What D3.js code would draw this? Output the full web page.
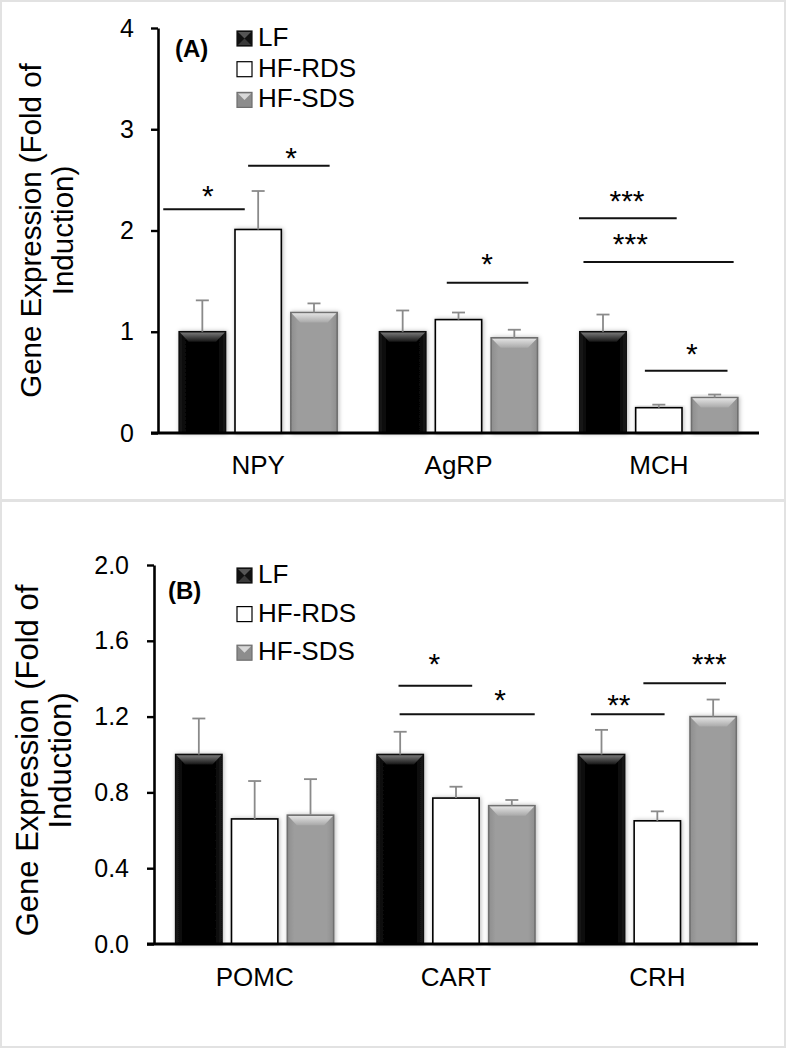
<!DOCTYPE html>
<html><head><meta charset="utf-8">
<script src="https://cdn.jsdelivr.net/npm/d3@7"></script>
<style>
body{margin:0;background:#fff}
svg{display:block}
text{font-family:"Liberation Sans",Arial,Helvetica,sans-serif;fill:#000}
</style>
</head><body>
<svg id="chart" width="788" height="1050"></svg>
<script>
// ---------- data ----------
const groups = ["LF", "HF-RDS", "HF-SDS"];
const yTitle1 = "Gene Expression (Fold of";
const yTitle2 = "Induction)";

// Panel A
const categoriesA = ["NPY", "AgRP", "MCH"];
const lfA = [1.00, 1.00, 1.00];
const lfErrA = [0.31, 0.21, 0.17];
const rdsA = [2.01, 1.12, 0.25];
const rdsErrA = [0.38, 0.07, 0.03];
const sdsA = [1.19, 0.94, 0.35];
const sdsErrA = [0.09, 0.08, 0.03];
const ticksA = [0, 1, 2, 3, 4];
const tickLabelsA = ["0", "1", "2", "3", "4"];
// significance marks (category, line from/to in bar-slot units, line value, label slot, label value, text)
const sigCatA = [0, 0, 1, 2, 2, 2];
const sigFromA = [-1.70, -0.18, -0.21, -1.43, -1.35, -0.25];
const sigToA = [-0.24, 1.28, 1.25, 0.32, 1.34, 1.23];
const sigValA = [2.21, 2.64, 1.485, 2.12, 1.69, 0.614];
const sigLabelSlotA = [-0.90, 0.59, 0.51, -0.57, -0.51, 0.59];
const sigLabelValA = [2.406, 2.79, 1.736, 2.356, 1.94, 0.854];
const sigTextA = ["*", "*", "*", "***", "***", "*"];

// Panel B
const categoriesB = ["POMC", "CART", "CRH"];
const lfB = [1.00, 1.00, 1.00];
const lfErrB = [0.19, 0.12, 0.13];
const rdsB = [0.66, 0.77, 0.65];
const rdsErrB = [0.20, 0.06, 0.05];
const sdsB = [0.68, 0.73, 1.20];
const sdsErrB = [0.19, 0.03, 0.09];
const ticksB = [0, 0.4, 0.8, 1.2, 1.6, 2.0];
const tickLabelsB = ["0.0", "0.4", "0.8", "1.2", "1.6", "2.0"];
const sigCatB = [1, 1, 2, 2];
const sigFromB = [-1.03, -1.01, -1.19, -0.25];
const sigToB = [0.29, 1.41, 0.13, 1.23];
const sigValB = [1.363, 1.212, 1.212, 1.376];
const sigLabelSlotB = [-0.39, 0.79, -0.69, 0.93];
const sigLabelValB = [1.516, 1.323, 1.297, 1.516];
const sigTextB = ["*", "*", "**", "***"];

// ---------- drawing ----------
const svg = d3.select("#chart");
const defs = svg.append("defs");

const g1 = defs.append("linearGradient").attr("id", "lfBevel").attr("x1", 0).attr("y1", 0).attr("x2", 0).attr("y2", 1);
g1.append("stop").attr("offset", "0%").attr("stop-color", "#777");
g1.append("stop").attr("offset", "100%").attr("stop-color", "#151515");
const g2 = defs.append("linearGradient").attr("id", "sdsBevel").attr("x1", 0).attr("y1", 0).attr("x2", 0).attr("y2", 1);
g2.append("stop").attr("offset", "0%").attr("stop-color", "#e2e2e2");
g2.append("stop").attr("offset", "100%").attr("stop-color", "#a9a9a9");
const g3 = defs.append("linearGradient").attr("id", "lfBody").attr("x1", 0).attr("y1", 0).attr("x2", 1).attr("y2", 0);
g3.append("stop").attr("offset", "0%").attr("stop-color", "#1a1a1a");
g3.append("stop").attr("offset", "15%").attr("stop-color", "#050505");
g3.append("stop").attr("offset", "85%").attr("stop-color", "#050505");
g3.append("stop").attr("offset", "100%").attr("stop-color", "#1a1a1a");
const g4 = defs.append("linearGradient").attr("id", "sdsBody").attr("x1", 0).attr("y1", 0).attr("x2", 1).attr("y2", 0);
g4.append("stop").attr("offset", "0%").attr("stop-color", "#8e8e8e");
g4.append("stop").attr("offset", "15%").attr("stop-color", "#9d9d9d");
g4.append("stop").attr("offset", "85%").attr("stop-color", "#9d9d9d");
g4.append("stop").attr("offset", "100%").attr("stop-color", "#8e8e8e");

const sh = defs.append("filter").attr("id", "shadow").attr("x", "-30%").attr("y", "-10%").attr("width", "160%").attr("height", "120%");
sh.append("feDropShadow").attr("dx", 1).attr("dy", 0).attr("stdDeviation", 2.2)
  .attr("flood-color", "#000").attr("flood-opacity", 0.28);

// panel frames
svg.append("rect").attr("x", 1).attr("y", 1).attr("width", 784).attr("height", 499)
  .attr("fill", "none").attr("stroke", "#e2e2e2").attr("stroke-width", 2);
svg.append("rect").attr("x", 1).attr("y", 501).attr("width", 784).attr("height", 546)
  .attr("fill", "none").attr("stroke", "#e2e2e2").attr("stroke-width", 2);

const barStyle = {
  "LF": {fill: "url(#lfBody)", stroke: "#111", bevel: "url(#lfBevel)"},
  "HF-RDS": {fill: "#fff", stroke: "#000", bevel: null},
  "HF-SDS": {fill: "url(#sdsBody)", stroke: "#6f6f6f", bevel: "url(#sdsBevel)"}
};

function drawPanel(cfg) {
  const g = svg.append("g");
  const y = d3.scaleLinear().domain([0, cfg.yMax]).range([cfg.bottom, cfg.top]);
  const x = d3.scaleBand().domain(cfg.categories).range([cfg.left, cfg.right]).padding(0);
  const groupW = 158;
  const xi = d3.scaleBand().domain(groups)
    .range([(x.bandwidth() - groupW) / 2, (x.bandwidth() + groupW) / 2])
    .paddingInner(0.17).paddingOuter(0);
  const slot = xi.step();
  const center = c => x(c) + x.bandwidth() / 2;

  const rows = [];
  cfg.categories.forEach((c, i) => {
    groups.forEach((grp, k) => {
      rows.push({cat: c, grp, v: cfg.values[k][i], e: cfg.errors[k][i]});
    });
  });

  // bars
  const bars = g.append("g");
  rows.forEach(r => {
    const bx = x(r.cat) + xi(r.grp), bw = xi.bandwidth();
    const by = y(r.v), bh = y(0) - y(r.v);
    const st = barStyle[r.grp];
    bars.append("rect").attr("x", bx).attr("y", by).attr("width", bw).attr("height", bh)
      .attr("fill", st.fill).attr("stroke", st.stroke).attr("stroke-width", 1.6)
      .attr("filter", "url(#shadow)");
    if (st.bevel) {
      const d = Math.min(10, bh * 0.3), ins = d * 0.95;
      bars.append("polygon")
        .attr("points", [[bx + 0.8, by + 0.8], [bx + bw - 0.8, by + 0.8], [bx + bw - ins, by + d], [bx + ins, by + d]].map(p => p.join(",")).join(" "))
        .attr("fill", st.bevel);
    }
  });

  // error bars
  const eb = g.append("g").attr("stroke", "#8a8a8a").attr("stroke-width", 1.8).attr("fill", "none");
  rows.forEach(r => {
    const cx = x(r.cat) + xi(r.grp) + xi.bandwidth() / 2;
    eb.append("line").attr("x1", cx).attr("x2", cx).attr("y1", y(r.v)).attr("y2", y(r.v + r.e));
    eb.append("line").attr("x1", cx - 6.5).attr("x2", cx + 6.5).attr("y1", y(r.v + r.e)).attr("y2", y(r.v + r.e));
  });

  // y axis
  const yAxis = d3.axisLeft(y).tickValues(cfg.ticks).tickFormat((d, i) => cfg.tickLabels[i])
    .tickSize(7).tickSizeOuter(0).tickPadding(cfg.tickPad);
  const ya = g.append("g").attr("transform", `translate(${cfg.left},0)`).call(yAxis);
  ya.select(".domain").attr("stroke", "#000").attr("stroke-width", 2.6);
  ya.selectAll(".tick line").attr("stroke", "#000").attr("stroke-width", 2.4);
  ya.selectAll(".tick text").attr("font-size", 25).attr("fill", "#000")
    .style("font-family", '"Liberation Sans",Arial,sans-serif');

  // x axis baseline
  g.append("line").attr("x1", cfg.left - 7).attr("x2", cfg.right)
    .attr("y1", y(0)).attr("y2", y(0)).attr("stroke", "#000").attr("stroke-width", 3);

  // category labels
  const xAxis = d3.axisBottom(x).tickSize(0).tickPadding(0);
  const xa = g.append("g").attr("transform", `translate(0,${cfg.bottom + cfg.catOffset})`).call(xAxis);
  xa.select(".domain").remove();
  xa.selectAll(".tick text").attr("font-size", 26).attr("fill", "#000").attr("dy", 0)
    .style("font-family", '"Liberation Sans",Arial,sans-serif');

  // significance marks
  const sg = g.append("g");
  cfg.sig.cat.forEach((ci, j) => {
    const c = center(cfg.categories[ci]);
    sg.append("line").attr("x1", c + cfg.sig.from[j] * slot).attr("x2", c + cfg.sig.to[j] * slot)
      .attr("y1", y(cfg.sig.val[j])).attr("y2", y(cfg.sig.val[j]))
      .attr("stroke", "#111").attr("stroke-width", 2);
    sg.append("text").attr("x", c + cfg.sig.lslot[j] * slot)
      .attr("y", y(cfg.sig.lval[j]) + 17)
      .attr("text-anchor", "middle").attr("font-size", 30).text(cfg.sig.text[j]);
  });

  // panel label
  g.append("text").attr("x", cfg.labelX).attr("y", cfg.labelY).attr("font-size", 24)
    .attr("font-weight", "bold").text(cfg.label);

  // legend
  const lg = g.append("g");
  groups.forEach((grp, k) => {
    const by = cfg.legendY + k * cfg.legendStep;
    const sx = 237, s = 15, sy = by - 15;
    const st = barStyle[grp];
    lg.append("rect").attr("x", sx).attr("y", sy).attr("width", s).attr("height", s)
      .attr("fill", grp === "LF" ? "#111" : grp === "HF-SDS" ? "#8d8d8d" : "#fff")
      .attr("stroke", grp === "HF-RDS" ? "#000" : st.stroke).attr("stroke-width", 1.2);
    if (st.bevel) {
      lg.append("polygon")
        .attr("points", [[sx + 1, sy + 1], [sx + s - 1, sy + 1], [sx + s / 2, sy + s / 2]].map(p => p.join(",")).join(" "))
        .attr("fill", grp === "LF" ? "#555" : "#d8d8d8");
      if (grp === "LF") {
        lg.append("polygon")
          .attr("points", [[sx + 1, sy + s - 1], [sx + s - 1, sy + s - 1], [sx + s / 2, sy + s / 2]].map(p => p.join(",")).join(" "))
          .attr("fill", "#3a3a3a");
      }
    }
    lg.append("text").attr("x", 258).attr("y", by).attr("font-size", 26).text(grp);
  });

  // y title
  const midY = (cfg.top + cfg.bottom) / 2 + cfg.titleShift;
  g.append("text").attr("transform", `translate(${cfg.title1X},${midY}) rotate(-90)`)
    .attr("text-anchor", "middle").attr("font-size", cfg.titleSize).text(yTitle1);
  g.append("text").attr("transform", `translate(${cfg.title2X},${midY}) rotate(-90)`)
    .attr("text-anchor", "middle").attr("font-size", cfg.titleSize).text(yTitle2);
}

drawPanel({
  categories: categoriesA,
  values: [lfA, rdsA, sdsA], errors: [lfErrA, rdsErrA, sdsErrA],
  ticks: ticksA, tickLabels: tickLabelsA, yMax: 4,
  top: 28, bottom: 433, left: 158, right: 759, tickPad: 17, catOffset: 41,
  sig: {cat: sigCatA, from: sigFromA, to: sigToA, val: sigValA, lslot: sigLabelSlotA, lval: sigLabelValA, text: sigTextA},
  label: "(A)", labelX: 175, labelY: 57,
  legendY: 46, legendStep: 30.7,
  titleSize: 29.5, title1X: 41, title2X: 73, titleShift: 0
});

drawPanel({
  categories: categoriesB,
  values: [lfB, rdsB, sdsB], errors: [lfErrB, rdsErrB, sdsErrB],
  ticks: ticksB, tickLabels: tickLabelsB, yMax: 2.0,
  top: 565, bottom: 944, left: 154, right: 758, tickPad: 18, catOffset: 42,
  sig: {cat: sigCatB, from: sigFromB, to: sigToB, val: sigValB, lslot: sigLabelSlotB, lval: sigLabelValB, text: sigTextB},
  label: "(B)", labelX: 168, labelY: 599,
  legendY: 583, legendStep: 38.6,
  titleSize: 31, title1X: 38, title2X: 71, titleShift: 6
});
</script>
</body></html>
